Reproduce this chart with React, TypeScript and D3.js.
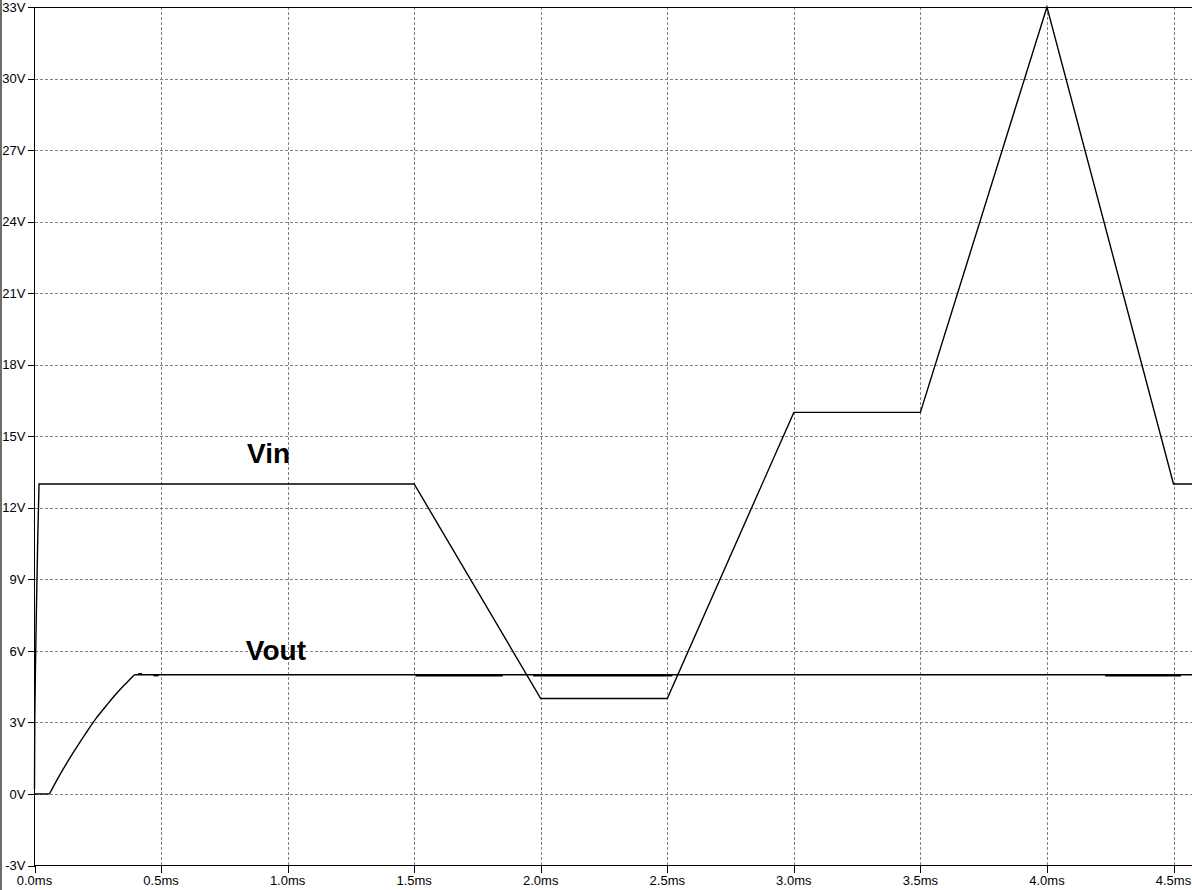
import React from "react";
import * as d3 from "d3";

const W = 1192;
const H = 890;

// Time axis ticks (ms) and voltage ticks (V)
const xTicks = [0, 0.5, 1.0, 1.5, 2.0, 2.5, 3.0, 3.5, 4.0, 4.5];
const yTicks = [-3, 0, 3, 6, 9, 12, 15, 18, 21, 24, 27, 30, 33];

// Vin trace: [time ms, volts]
const vinT = [0, 0.001, 0.004, 0.008, 0.013, 0.018, 1.5, 2.0, 2.5, 3.0, 3.5, 4.0, 4.5, 4.573];
const vinV = [0.2, 3, 5.5, 8, 10.8, 13, 13, 4, 4, 16, 16, 33, 13, 13];

// Vout trace
const voutT = [0, 0.059, 0.1, 0.151, 0.2, 0.244, 0.285, 0.323, 0.36, 0.395, 4.573];
const voutV = [0, 0, 0.8, 1.7, 2.5, 3.18, 3.72, 4.2, 4.62, 5, 5];

// Vout small ripple segments [start ms, end ms, volts]
const rippleStart = [0.41, 0.47, 1.505, 1.97, 4.23];
const rippleEnd = [0.425, 0.49, 1.85, 2.52, 4.53];
const rippleV = [5.04, 4.96, 4.96, 4.96, 4.96];

const labels = ["Vin", "Vout"];
const labelT = [0.84, 0.835];
const labelV = [13.87, 5.6];

export default function App() {
  const x = d3.scaleLinear().domain([0, 4.5]).range([34.5, 1173.5]);
  const y = d3.scaleLinear().domain([-3, 33]).range([865.5, 7]);
  const line = d3
    .line<[number, number]>()
    .x((d) => x(d[0]))
    .y((d) => y(d[1]));
  const smooth = d3
    .line<[number, number]>()
    .x((d) => x(d[0]))
    .y((d) => y(d[1]))
    .curve(d3.curveCatmullRom.alpha(0.5));

  const vin: [number, number][] = vinT.map((t, i) => [t, vinV[i]]);
  const vout: [number, number][] = voutT.map((t, i) => [t, voutV[i]]);
  const n = vout.length;
  const voutRise = vout.slice(1, n - 1);
  const voutHead = vout.slice(0, 2);
  const voutTail = vout.slice(n - 2);

  const left = x(0);
  const right = W;
  const top = y(33);
  const bottom = y(-3);

  return (
    <svg
      width={W}
      height={H}
      style={{ position: "absolute", left: 0, top: 0, background: "#fff" }}
      fontFamily="Arial, 'Liberation Sans', sans-serif"
    >
      <rect x={0} y={0} width={W} height={H} fill="#fff" />
      <rect x={0} y={0} width={2} height={H} fill="#6d6d6d" />
      {/* horizontal grid */}
      {yTicks
        .filter((v) => v > -3 && v < 33)
        .map((v) => (
          <line
            key={"hg" + v}
            x1={left}
            x2={right}
            y1={Math.round(y(v)) + 0.5}
            y2={Math.round(y(v)) + 0.5}
            stroke="#808080"
            strokeDasharray="3,2"
            shapeRendering="crispEdges"
          />
        ))}
      {/* vertical grid */}
      {xTicks
        .filter((t) => t > 0)
        .map((t) => (
          <line
            key={"vg" + t}
            x1={Math.round(x(t)) + 0.5}
            x2={Math.round(x(t)) + 0.5}
            y1={top}
            y2={bottom}
            stroke="#808080"
            strokeDasharray="3,2"
            shapeRendering="crispEdges"
          />
        ))}
      {/* axes frame */}
      <line x1={left} x2={left} y1={top} y2={bottom} stroke="#000" shapeRendering="crispEdges" />
      <line x1={left} x2={right} y1={top} y2={top} stroke="#000" shapeRendering="crispEdges" />
      <line x1={left} x2={right} y1={bottom} y2={bottom} stroke="#000" shapeRendering="crispEdges" />
      {/* y ticks + labels */}
      {yTicks.map((v) => (
        <g key={"yt" + v}>
          <line
            x1={28}
            x2={left}
            y1={Math.round(y(v)) + 0.5}
            y2={Math.round(y(v)) + 0.5}
            stroke="#000"
            shapeRendering="crispEdges"
          />
          <text x={25.5} y={y(v)} dy="0.36em" textAnchor="end" fontSize={13} fill="#000">
            {v}V
          </text>
        </g>
      ))}
      {/* x ticks + labels */}
      {xTicks.map((t) => (
        <g key={"xt" + t}>
          <line
            x1={Math.round(x(t)) + 0.5}
            x2={Math.round(x(t)) + 0.5}
            y1={bottom}
            y2={bottom + 7}
            stroke="#000"
            shapeRendering="crispEdges"
          />
          <text x={x(t)} y={885} textAnchor="middle" fontSize={13} fill="#000">
            {t.toFixed(1)}ms
          </text>
        </g>
      ))}
      {/* traces */}
      <path d={line(vin) || ""} fill="none" stroke="#000" strokeWidth={1.4} />
      <path d={line(voutHead) || ""} fill="none" stroke="#000" strokeWidth={1.4} />
      <path d={smooth(voutRise) || ""} fill="none" stroke="#000" strokeWidth={1.4} />
      <path d={line(voutTail) || ""} fill="none" stroke="#000" strokeWidth={1.4} />
      {rippleStart.map((s, i) => (
        <path
          key={"rp" + i}
          d={line([[s, rippleV[i]], [rippleEnd[i], rippleV[i]]]) || ""}
          fill="none"
          stroke="#000"
          strokeWidth={1.4}
        />
      ))}
      {/* labels */}
      {labels.map((l, i) => (
        <text
          key={l}
          x={x(labelT[i])}
          y={y(labelV[i])}
          fontSize={28}
          fontWeight="bold"
          fill="#000"
        >
          {l}
        </text>
      ))}
    </svg>
  );
}
